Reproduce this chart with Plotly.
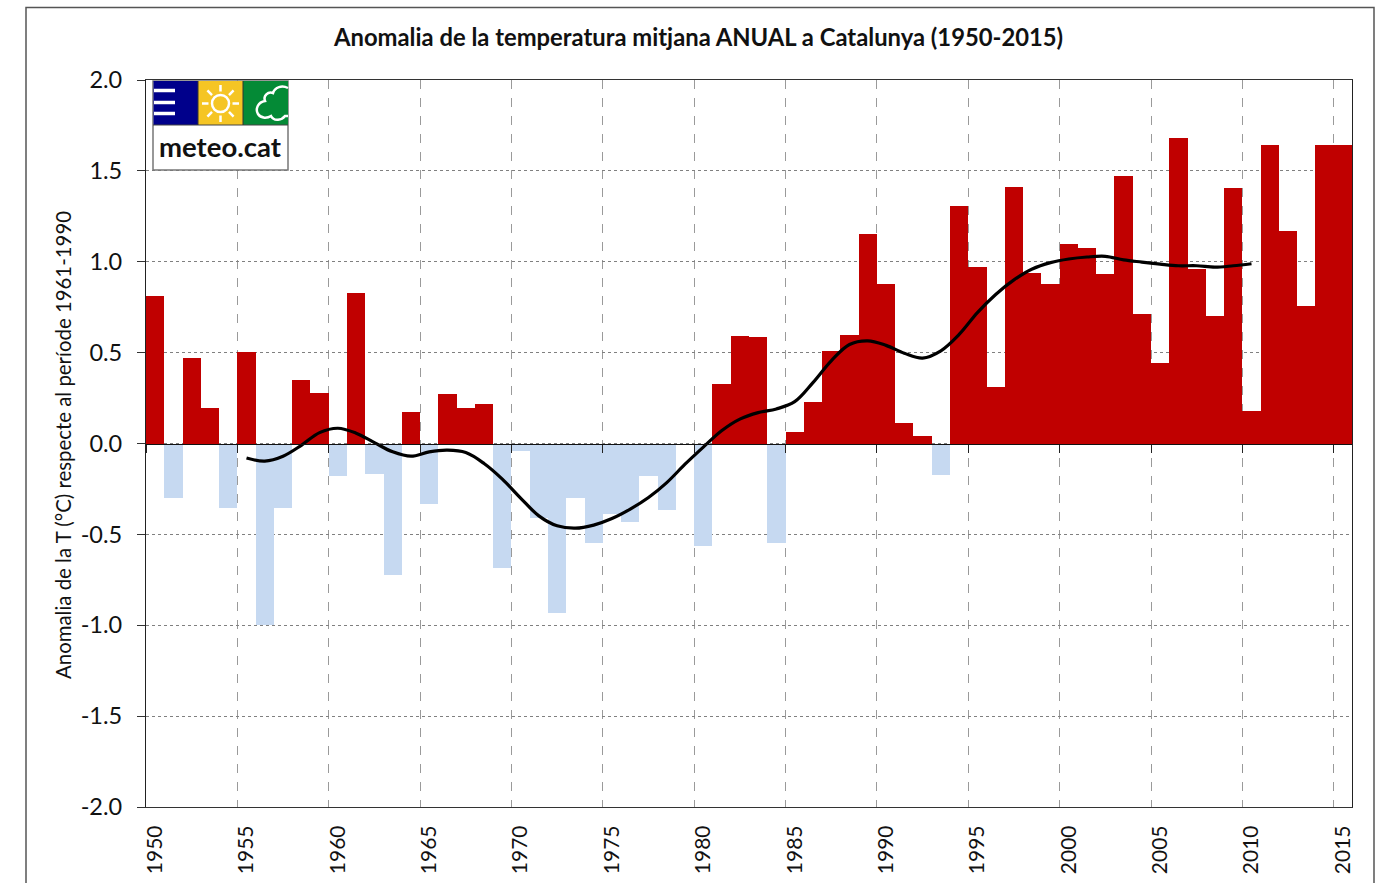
import math
import plotly.graph_objects as go

W, H = 1386, 883
L, R, T, B = 146, 1352, 80, 807

years = list(range(1950, 2016))
anomaly = [
    0.81, -0.30, 0.47, 0.195, -0.355, 0.505, -1.00, -0.355, 0.35, 0.28,
    -0.18, 0.83, -0.17, -0.725, 0.175, -0.335, 0.27, 0.195, 0.22, -0.685,
    -0.04, -0.41, -0.935, -0.30, -0.545, -0.39, -0.43, -0.18, -0.365, 0.0,
    -0.565, 0.325, 0.59, 0.585, -0.545, 0.065, 0.23, 0.51, 0.595, 1.15,
    0.88, 0.115, 0.04, -0.175, 1.305, 0.97, 0.31, 1.41, 0.94, 0.88,
    1.095, 1.075, 0.93, 1.47, 0.715, 0.445, 1.68, 0.96, 0.70, 1.405,
    0.18, 1.64, 1.17, 0.755, 1.645, 1.645,
]
smooth_years = list(range(1955, 2011))
smooth = [
    -0.08, -0.097, -0.07, -0.01, 0.06, 0.084, 0.057, 0.005, -0.046, -0.07,
    -0.046, -0.037, -0.05, -0.11, -0.196, -0.30, -0.398, -0.453, -0.466, -0.449,
    -0.413, -0.361, -0.297, -0.215, -0.114, -0.02, 0.07, 0.134, 0.17, 0.19,
    0.23, 0.335, 0.455, 0.545, 0.565, 0.54, 0.497, 0.47, 0.51, 0.60,
    0.72, 0.82, 0.90, 0.96, 0.995, 1.015, 1.026, 1.03, 1.01, 0.998,
    0.987, 0.978, 0.978, 0.97, 0.978, 0.989,
]
label_years = list(range(1950, 2016, 5))
y_ticks = [-2.0, -1.5, -1.0, -0.5, 0.0, 0.5, 1.0, 1.5, 2.0]
title_text = "Anomalia de la temperatura mitjana ANUAL a Catalunya (1950-2015)"
y_title = "Anomalia de la T (°C) respecte al període 1961-1990"

RED, BLUE = "#C00000", "#C6D9F1"
FONT = "Lato"
INK = "#111111"


def px(x):
    return (x - L) / (R - L)


def py(y):
    return (B - y) / (B - T)


def rect(x0, y0, x1, y1, fill, line=None, width=1):
    return dict(type="rect", xref="paper", yref="paper", x0=px(x0), x1=px(x1), y0=py(y0), y1=py(y1),
                fillcolor=fill, line=dict(color=line or fill, width=width if line else 0), layer="above")


def seg(x0, y0, x1, y1, color="white", width=3):
    return dict(type="line", xref="paper", yref="paper", x0=px(x0), x1=px(x1), y0=py(y0), y1=py(y1),
                line=dict(color=color, width=width), layer="above")


def pathshape(cmds, color="white", width=2.5):
    parts = []
    for c in cmds:
        parts.append(c[0] + " ".join(f"{px(c[i]):.5f},{py(c[i + 1]):.5f}" for i in range(1, len(c), 2)))
    return dict(type="path", xref="paper", yref="paper", path=" ".join(parts),
                line=dict(color=color, width=width), layer="above")


def label(text, x, y, size, angle=0):
    return dict(text=text, xref="paper", yref="paper", x=px(x), y=py(y), xanchor="center", yanchor="middle",
                showarrow=False, textangle=angle, font=dict(family=FONT, size=size, color=INK))


shapes = [
    pathshape([("M", 26, 890), ("L", 26, 7.5), ("L", 1374, 7.5), ("L", 1374, 890)], "#555555", 1.5),
    rect(153, 81, 288, 170, "white", "#777777", 1.5),
    rect(153.5, 81, 198, 125, "#00008B"),
    rect(198, 81, 243, 125, "#F5C524"),
    rect(243, 81, 288, 125, "#048A36"),
    seg(153, 125, 288, 125, "#444444", 1),
    seg(198, 81, 198, 125, "#333333", 1),
    seg(243, 81, 243, 125, "#333333", 1),
    seg(154, 90.5, 175, 90.5, "white", 3.5), seg(154, 102.5, 175, 102.5, "white", 3.5),
    seg(154, 113.5, 175, 113.5, "white", 3.5),
    dict(type="circle", xref="paper", yref="paper", x0=px(212), x1=px(229), y0=py(95), y1=py(112),
         fillcolor="#F5C524", line=dict(color="white", width=2.5), layer="above"),
    pathshape([("M", 288, 88), ("C", 282, 85, 275, 87, 273, 93), ("C", 268, 91, 263, 96, 265, 101),
               ("C", 258, 102, 255, 109, 258, 114), ("C", 261, 119, 268, 118, 271, 116),
               ("C", 274, 122, 282, 120, 285, 116), ("L", 288, 116)]),
]
for k in range(8):
    a = k * math.pi / 4
    shapes.append(seg(220.5 + 12 * math.cos(a), 103.5 + 12 * math.sin(a),
                      220.5 + 18.5 * math.cos(a), 103.5 + 18.5 * math.sin(a), "white", 2.5))

annotations = [
    label(f"<b>{title_text}</b>", 698, 37, 23.8),
    label(y_title, 63, 445, 20.4, -90),
    label("<b>meteo.cat</b>", 220.5, 147, 27.5),
]

fig = go.Figure()
fig.add_bar(x=years, y=anomaly, xaxis="x", yaxis="y", width=1, marker_line_width=0,
            marker_color=[RED if v >= 0 else BLUE for v in anomaly])
fig.add_scatter(x=smooth_years, y=smooth, xaxis="x2", yaxis="y", mode="lines",
                line=dict(color="black", width=3.2, shape="spline", smoothing=1.0))

fig.update_layout(
    width=W, height=H, autosize=False,
    margin=dict(l=L, r=W - R, t=T, b=H - B, pad=0, autoexpand=False),
    paper_bgcolor="white", plot_bgcolor="white", showlegend=False, bargap=0,
    font=dict(family=FONT, color=INK),
    shapes=shapes, annotations=annotations,
    xaxis=dict(
        range=[1949.5, 2015.5], domain=[0, 1], anchor="free", position=0.5,
        tickmode="linear", tick0=1949.5, dtick=5, showticklabels=False, automargin=False,
        ticks="outside", ticklen=8, tickcolor="#222222", tickwidth=1.3,
        showgrid=True, gridcolor="#9a9a9a", griddash="dash", gridwidth=1,
        showline=True, linecolor="#111111", linewidth=1.2, zeroline=False,
    ),
    xaxis2=dict(
        range=[1949.5, 2015.5], domain=[0, 1], overlaying="x", anchor="y", side="bottom",
        tickmode="array", tickvals=label_years, ticktext=[str(v) for v in label_years],
        tickangle=-90, tickfont=dict(family=FONT, size=21, color=INK), ticks="", showgrid=False,
        ticklabelstandoff=9, automargin=False,
        showline=True, linecolor="#333333", linewidth=1.2, mirror=True, zeroline=False,
    ),
    yaxis=dict(
        range=[-2, 2], domain=[0, 1], anchor="x", side="left", automargin=False,
        tickmode="array", tickvals=y_ticks, ticktext=[f"{v:.1f}" for v in y_ticks],
        tickfont=dict(family=FONT, size=23.5, color=INK), ticks="outside", ticklen=8,
        tickcolor="#333333", ticklabelstandoff=10,
        showgrid=True, gridcolor="#808080", griddash="dot", gridwidth=1,
        showline=True, linecolor="#222222", linewidth=1.2, mirror=True, zeroline=False,
    ),
)

fig.write_html("out.html", config=dict(displayModeBar=False),
               post_script="document.body.style.margin='0';document.body.style.overflow='hidden';")
